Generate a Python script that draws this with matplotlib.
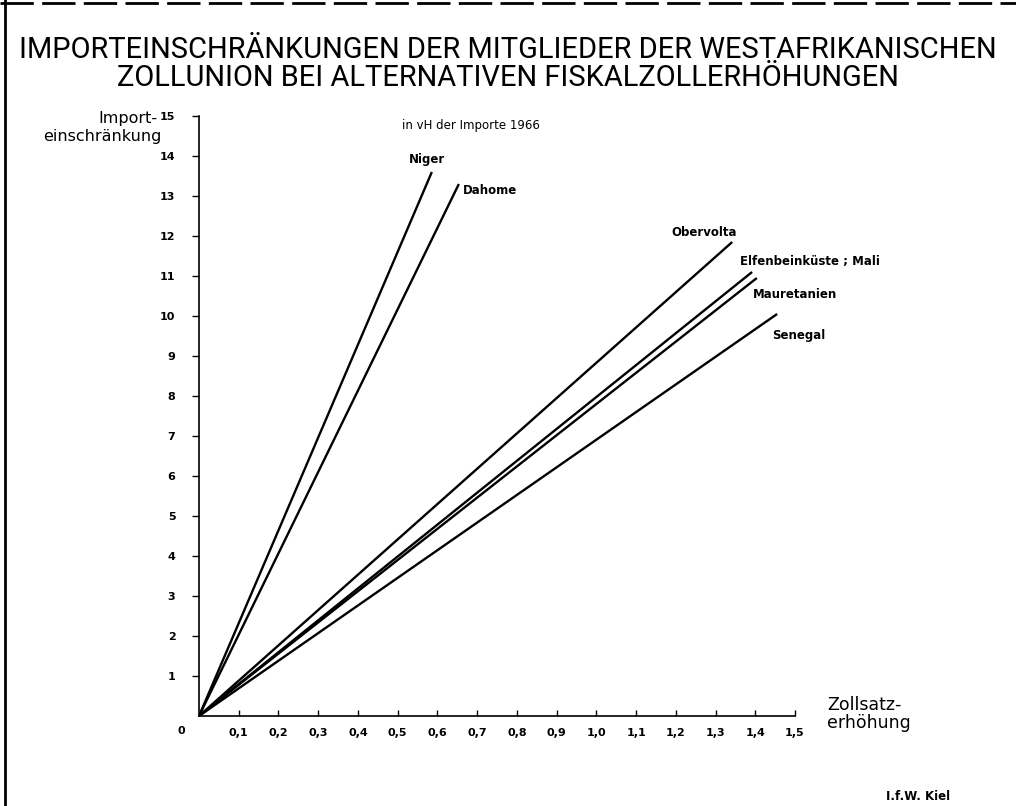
import matplotlib
matplotlib.use("Agg")
from matplotlib import pyplot as plt
from matplotlib.lines import Line2D
import numpy as np

# Daten: Endpunkte der Geraden (Zollsatzerhöhung, Importeinschränkung in vH)
countries = ["Niger", "Dahome", "Obervolta", "Elfenbeinküste ; Mali", "Mauretanien", "Senegal"]
x_end = [0.586, 0.654, 1.342, 1.392, 1.404, 1.455]
y_end = [13.6, 13.3, 11.85, 11.1, 10.95, 10.05]

x_ticks = [0.1, 0.2, 0.3, 0.4, 0.5, 0.6, 0.7, 0.8, 0.9, 1.0, 1.1, 1.2, 1.3, 1.4, 1.5]
y_ticks = list(range(1, 16))

# Beschriftungspositionen (Datenkoordinaten)
label_pos = [(0.574, 13.9), (0.664, 13.15), (1.188, 12.1), (1.362, 11.35), (1.394, 10.55), (1.442, 9.5)]
label_ha = ["center", "left", "left", "left", "left", "left"]

plt.rcParams["font.family"] = ["DejaVu Sans"]

W, H = 1016, 806
fig = plt.figure(figsize=(W / 100, H / 100), dpi=100)

# Rahmen (links und oben)
fig.add_artist(Line2D([5 / W, 5 / W], [0, 1], color="black", lw=2, transform=fig.transFigure))
fig.add_artist(Line2D([0, 1], [1 - 3 / H, 1 - 3 / H], color="black", lw=2,
                      linestyle=(0, (12, 3)), transform=fig.transFigure))

title_lines = ["IMPORTEINSCHRÄNKUNGEN DER MITGLIEDER DER WESTAFRIKANISCHEN",
               "ZOLLUNION BEI ALTERNATIVEN FISKALZOLLERHÖHUNGEN"]
t1 = fig.text(0.5, 1 - 50 / H, title_lines[0], ha="center", va="center", fontsize=21,
              family=["Roboto", "DejaVu Sans"])
t2 = fig.text(0.5, 1 - 78 / H, title_lines[1], ha="center", va="center", fontsize=21,
              family=["Roboto", "DejaVu Sans"])
# Titelbreite an Vorlage anpassen (ca. 974 px)
renderer = fig.canvas.get_renderer()
w1 = t1.get_window_extent(renderer).width
scale = min(1.0, 974 / w1)
t1.set_fontsize(21 * scale)
t2.set_fontsize(21 * scale)

ax = fig.add_axes([199 / W, (H - 716) / H, 596 / W, 600 / H])

for xe, ye in zip(x_end, y_end):
    ax.plot([0, xe], [0, ye], color="black", lw=1.7, solid_capstyle="butt")

for name, (lx, ly), ha in zip(countries, label_pos, label_ha):
    ax.text(lx, ly, name, ha=ha, va="center", fontsize=8.5, fontweight="bold", clip_on=False)

ax.set_xlim(0, 1.5)
ax.set_ylim(0, 15)
ax.spines["top"].set_visible(False)
ax.spines["right"].set_visible(False)
ax.spines["left"].set_linewidth(1.2)
ax.spines["bottom"].set_linewidth(1.2)

ax.set_xticks(x_ticks)
ax.set_xticklabels([f"{v:.1f}".replace(".", ",") for v in x_ticks])
ax.set_yticks(y_ticks)
ax.set_yticklabels([str(v) for v in y_ticks])
ax.tick_params(axis="x", direction="in", length=4, width=1, pad=9, labelsize=8)
ax.tick_params(axis="y", direction="out", length=5, width=1, pad=12, labelsize=8)
for lab in ax.get_xticklabels() + ax.get_yticklabels():
    lab.set_fontweight("bold")

ax.annotate("0", (0, 0), xytext=(-13, -11), textcoords="offset points",
            ha="center", va="center", fontsize=8, fontweight="bold")

fig.text(157 / W, 1 - 118 / H, "Import-", ha="right", va="center", fontsize=11.5)
fig.text(162 / W, 1 - 137 / H, "einschränkung", ha="right", va="center", fontsize=11.5)
fig.text(827 / W, 1 - 714 / H, "Zollsatz-\nerhöhung", ha="left", va="center",
         fontsize=12.5, linespacing=0.95)
fig.text(402 / W, 1 - 126 / H, "in vH der Importe 1966", ha="left", va="center", fontsize=8.5)
fig.text(950 / W, 1 - 797 / H, "I.f.W. Kiel", ha="right", va="center",
         fontsize=8.5, fontweight="bold")

fig.savefig("out.png", dpi=100)
